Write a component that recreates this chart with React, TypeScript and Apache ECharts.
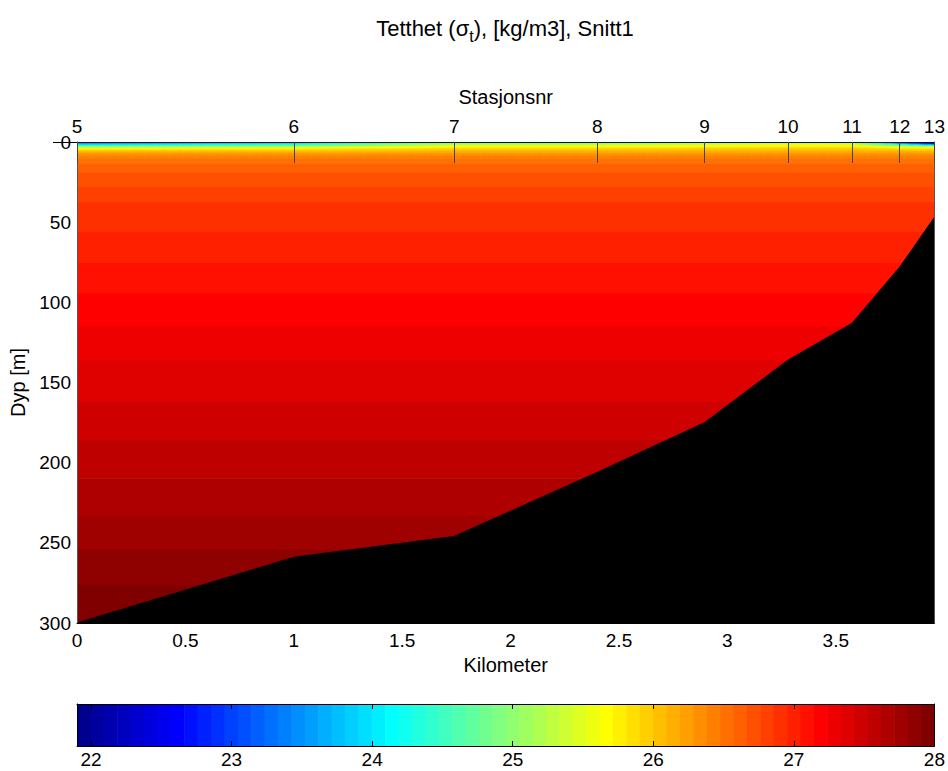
import React, { useEffect, useRef } from "react";
import * as echarts from "echarts";

// Stations along the section, their distance (km) and bottom depth (m)
const stationNr = [5, 6, 7, 8, 9, 10, 11, 12, 13];
const stationKm = [0, 1.0, 1.74, 2.4, 2.895, 3.28, 3.575, 3.795, 3.955];
const bottomDepth = [300, 259, 246, 206, 175, 136, 113, 78, 47];

// Surface layer: sigma-t at each station for these depths (m)
const upperDepth = [0, 1, 2, 3, 4, 6, 8, 12];
const upperSigma = [
  [23.1, 23.6, 24.2, 25.1, 25.7, 26.1, 26.35, 26.55], // st. 5
  [23.6, 24.0, 24.6, 25.3, 25.75, 26.1, 26.35, 26.55], // st. 6
  [24.6, 25.0, 25.4, 25.7, 25.9, 26.15, 26.35, 26.55], // st. 7
  [24.8, 25.1, 25.4, 25.7, 25.9, 26.15, 26.35, 26.55], // st. 8
  [24.9, 25.2, 25.5, 25.75, 25.95, 26.15, 26.35, 26.55], // st. 9
  [25.1, 25.35, 25.6, 25.8, 25.95, 26.15, 26.35, 26.55], // st. 10
  [25.0, 25.3, 25.55, 25.8, 25.95, 26.15, 26.35, 26.55], // st. 11
  [22.8, 23.6, 24.8, 25.5, 25.85, 26.15, 26.35, 26.55], // st. 12
  [22.2, 22.6, 24.0, 25.3, 25.8, 26.15, 26.35, 26.55], // st. 13
];

// Deeper water: layered profile shared by all stations
const deepDepth = [12, 20, 40, 60, 80, 100, 120, 140, 160, 180, 200, 220, 240, 260, 280, 300];
const deepSigma = [26.55, 26.68, 26.88, 26.97, 27.07, 27.17, 27.26, 27.35, 27.42, 27.5, 27.58, 27.66, 27.74, 27.84, 27.92, 27.98];

// Colour scale (colour limits) and the colorbar tick labels
const colorRange = [21.9, 28.0];
const colorTicks = [22, 23, 24, 25, 26, 27, 28];
const N_COLORS = 64;

const depthTicks = [0, 50, 100, 150, 200, 250, 300];
const kmTicks = [0, 0.5, 1, 1.5, 2, 2.5, 3, 3.5];

const FONT = "Liberation Sans, Arial, Helvetica, sans-serif";
const X_MAX = stationKm[stationKm.length - 1];

// MATLAB-style jet colormap with N_COLORS entries
function jetColor(k: number): string {
  const n = k + 1; // 1-based
  const u = (j: number) => (j < 1 || j > 47 ? 0 : j <= 16 ? j / 16 : j <= 31 ? 1 : (48 - j) / 16);
  const r = n >= 25 ? u(n - 24) : 0;
  const g = n >= 9 && n <= 55 ? u(n - 8) : 0;
  const b = n <= 39 ? u(n + 8) : 0;
  const c = (v: number) => Math.round(v * 255);
  return `rgb(${c(r)},${c(g)},${c(b)})`;
}

function colorIndex(v: number): number {
  const k = Math.floor(((v - colorRange[0]) / (colorRange[1] - colorRange[0])) * N_COLORS);
  return Math.max(0, Math.min(N_COLORS - 1, k));
}

function interp(xs: number[], ys: number[], x: number): number {
  if (x <= xs[0]) return ys[0];
  for (let i = 1; i < xs.length; i++) {
    if (x <= xs[i]) {
      const t = (x - xs[i - 1]) / (xs[i] - xs[i - 1]);
      return ys[i - 1] + t * (ys[i] - ys[i - 1]);
    }
  }
  return ys[ys.length - 1];
}

function sigmaAt(km: number, d: number): number {
  if (d >= deepDepth[0]) return interp(deepDepth, deepSigma, d);
  const column = upperSigma.map((row) => interp(upperDepth, row, d));
  return interp(stationKm, column, km);
}

// Shaded section cells: [x0, x1, d0, d1, colourIndex]
function buildCells(): number[][] {
  const cells: number[][] = [];
  const upperBottom = upperDepth[upperDepth.length - 1];
  const dx = 0.01;
  const nCol = Math.ceil(X_MAX / dx);
  const dzU = 0.05;
  const nzU = Math.round(upperBottom / dzU);
  for (let c = 0; c < nCol; c++) {
    const x0 = c * dx;
    const x1 = Math.min(X_MAX, (c + 1) * dx);
    const xm = (x0 + x1) / 2;
    let start = 0;
    let idx = colorIndex(sigmaAt(xm, dzU / 2));
    for (let j = 1; j < nzU; j++) {
      const k = colorIndex(sigmaAt(xm, (j + 0.5) * dzU));
      if (k !== idx) {
        cells.push([x0, x1, start, j * dzU, idx]);
        start = j * dzU;
        idx = k;
      }
    }
    cells.push([x0, x1, start, upperBottom, idx]);
  }
  const dzD = 0.1;
  const maxD = deepDepth[deepDepth.length - 1];
  const nzD = Math.round((maxD - upperBottom) / dzD);
  let start = upperBottom;
  let idx = colorIndex(sigmaAt(0, upperBottom + dzD / 2));
  for (let j = 1; j < nzD; j++) {
    const d = upperBottom + j * dzD;
    const k = colorIndex(sigmaAt(0, d + dzD / 2));
    if (k !== idx) {
      cells.push([0, X_MAX, start, d, idx]);
      start = d;
      idx = k;
    }
  }
  cells.push([0, X_MAX, start, maxD, idx]);
  return cells;
}

function buildColorbar(): number[][] {
  const step = (colorRange[1] - colorRange[0]) / N_COLORS;
  const out: number[][] = [];
  for (let k = 0; k < N_COLORS; k++) {
    out.push([colorRange[0] + k * step, colorRange[0] + (k + 1) * step, k]);
  }
  return out;
}

function cellRender(params: any, api: any) {
  const p0 = api.coord([api.value(0), api.value(2)]);
  const p1 = api.coord([api.value(1), api.value(3)]);
  return {
    type: "rect",
    shape: { x: p0[0], y: p0[1], width: p1[0] - p0[0] + 0.6, height: p1[1] - p0[1] + 0.6 },
    style: { fill: jetColor(api.value(4)) },
  };
}

function colorbarRender(params: any, api: any) {
  const p0 = api.coord([api.value(0), 1]);
  const p1 = api.coord([api.value(1), 0]);
  return {
    type: "rect",
    shape: { x: p0[0], y: p0[1], width: p1[0] - p0[0] + 0.6, height: p1[1] - p0[1] },
    style: { fill: jetColor(api.value(2)) },
  };
}

const labelStyle = { color: "#000", fontSize: 19, fontFamily: FONT };
const nameStyle = { color: "#000", fontSize: 20, fontFamily: FONT };

export default function App() {
  const ref = useRef<HTMLDivElement>(null);

  useEffect(() => {
    const chart = echarts.init(ref.current!, null, { renderer: "svg" });
    const option: any = {
      animation: false,
      textStyle: { fontFamily: FONT },
      grid: [
        { left: 77, right: 13, top: 142, bottom: 148 },
        { left: 77, right: 13, top: 704, bottom: 25 },
      ],
      graphic: [
        {
          type: "text",
          x: 505,
          y: 28,
          silent: true,
          style: {
            text: "{a|Tetthet (σ}{s|t}{a|), [kg/m3], Snitt1}",
            align: "center",
            verticalAlign: "middle",
            fill: "#000",
            rich: {
              a: { fontSize: 22, fontFamily: FONT, lineHeight: 32, verticalAlign: "middle", fill: "#000" },
              s: { fontSize: 16, fontFamily: FONT, lineHeight: 16, verticalAlign: "bottom", fill: "#000" },
            },
          },
        },
      ],
      xAxis: [
        {
          type: "value",
          gridIndex: 0,
          position: "bottom",
          min: 0,
          max: X_MAX,
          z: 10,
          name: "Kilometer",
          nameLocation: "middle",
          nameGap: 32,
          nameTextStyle: nameStyle,
          axisLine: { show: true, onZero: false, lineStyle: { color: "#000", width: 1 } },
          axisTick: { show: false },
          axisLabel: { ...labelStyle, margin: 8, customValues: kmTicks },
          splitLine: { show: false },
        },
        {
          type: "value",
          gridIndex: 0,
          position: "top",
          min: 0,
          max: X_MAX,
          z: 10,
          name: "Stasjonsnr",
          nameLocation: "middle",
          nameGap: 35,
          nameTextStyle: nameStyle,
          axisLine: { show: true, onZero: false, lineStyle: { color: "#111", width: 1 } },
          axisTick: { show: true, inside: true, length: 21, customValues: stationKm, lineStyle: { color: "#444", width: 1 } },
          axisLabel: {
            ...labelStyle,
            margin: 6,
            customValues: stationKm,
            formatter: (v: number) => {
              const i = stationKm.findIndex((k) => Math.abs(k - v) < 1e-6);
              return i >= 0 ? String(stationNr[i]) : "";
            },
          },
          splitLine: { show: false },
        },
        {
          type: "value",
          gridIndex: 1,
          position: "bottom",
          min: colorRange[0],
          max: colorRange[1],
          z: 10,
          axisLine: { show: true, onZero: false, lineStyle: { color: "#000", width: 1 } },
          axisTick: { show: true, inside: true, length: 5, customValues: colorTicks, lineStyle: { color: "#000" } },
          axisLabel: { ...labelStyle, margin: 4, customValues: colorTicks },
          splitLine: { show: false },
        },
        {
          type: "value",
          gridIndex: 1,
          position: "top",
          min: colorRange[0],
          max: colorRange[1],
          z: 10,
          axisLine: { show: true, onZero: false, lineStyle: { color: "#000", width: 1 } },
          axisTick: { show: true, inside: true, length: 5, customValues: colorTicks, lineStyle: { color: "#000" } },
          axisLabel: { show: false },
          splitLine: { show: false },
        },
      ],
      yAxis: [
        {
          type: "value",
          gridIndex: 0,
          position: "left",
          inverse: true,
          min: 0,
          max: 300,
          interval: 50,
          z: 10,
          name: "Dyp [m]",
          nameLocation: "middle",
          nameGap: 48,
          nameRotate: 90,
          nameTextStyle: nameStyle,
          axisLine: { show: true, onZero: false, lineStyle: { color: "#555", width: 1 } },
          axisTick: { show: true, inside: false, length: 24, customValues: [0], lineStyle: { color: "#000" } },
          axisLabel: { ...labelStyle, margin: 6, customValues: depthTicks },
          splitLine: { show: false },
        },
        {
          type: "value",
          gridIndex: 0,
          position: "right",
          inverse: true,
          min: 0,
          max: 300,
          interval: 50,
          z: 10,
          axisLine: { show: true, onZero: false, lineStyle: { color: "#555", width: 1 } },
          axisTick: { show: false },
          axisLabel: { show: false },
          splitLine: { show: false },
        },
        {
          type: "value",
          gridIndex: 1,
          position: "left",
          min: 0,
          max: 1,
          z: 10,
          axisLine: { show: true, onZero: false, lineStyle: { color: "#000", width: 1 } },
          axisTick: { show: false },
          axisLabel: { show: false },
          splitLine: { show: false },
        },
        {
          type: "value",
          gridIndex: 1,
          position: "right",
          min: 0,
          max: 1,
          z: 10,
          axisLine: { show: true, onZero: false, lineStyle: { color: "#000", width: 1 } },
          axisTick: { show: false },
          axisLabel: { show: false },
          splitLine: { show: false },
        },
      ],
      series: [
        {
          type: "custom",
          name: "sigma-t",
          xAxisIndex: 0,
          yAxisIndex: 0,
          silent: true,
          clip: true,
          z: 1,
          progressive: 0,
          encode: { x: [0, 1], y: [2, 3] },
          renderItem: cellRender,
          data: buildCells(),
        },
        {
          type: "line",
          name: "Bunn",
          xAxisIndex: 0,
          yAxisIndex: 0,
          silent: true,
          z: 5,
          symbol: "none",
          lineStyle: { color: "#000", width: 1 },
          areaStyle: { color: "#000", opacity: 1, origin: "end" },
          data: stationKm.map((k, i) => [k, bottomDepth[i]]),
        },
        {
          type: "custom",
          name: "colorbar",
          xAxisIndex: 2,
          yAxisIndex: 2,
          silent: true,
          clip: true,
          z: 1,
          encode: { x: [0, 1] },
          renderItem: colorbarRender,
          data: buildColorbar(),
        },
      ],
    };
    chart.setOption(option);
    return () => chart.dispose();
  }, []);

  return (
    <div
      ref={ref}
      style={{ position: "absolute", left: 0, top: 0, width: 948, height: 771, background: "#fff" }}
    />
  );
}
